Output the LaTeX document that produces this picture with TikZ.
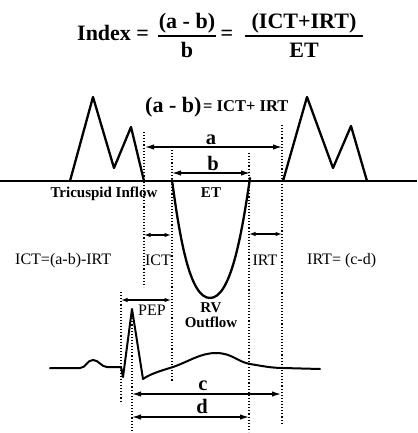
\documentclass[tikz,border=0pt]{standalone}
\usepackage{fontspec}
\setmainfont{Liberation Serif}
\usetikzlibrary{arrows.meta}
\begin{document}
\begin{tikzpicture}[x=1pt,y=-1pt,
  wave/.style={line width=2.3pt, line join=round, line cap=round},
  ecg/.style={line width=2pt, line join=round, line cap=round},
  guide/.style={line width=1.2pt, dash pattern=on 1.1pt off 2pt},
  dimarrow/.style={line width=1.3pt, {Latex[length=9pt,width=5.5pt]}-{Latex[length=9pt,width=5.5pt]}},
  smallarrow/.style={line width=1.2pt, {Latex[length=6.5pt,width=4.5pt]}-{Latex[length=6.5pt,width=4.5pt]}},
  txt/.style={inner sep=0pt, anchor=base},
  bold15/.style={txt, font=\fontsize{15}{18}\selectfont\bfseries},
  reg16/.style={txt, font=\fontsize{16}{19}\selectfont},
  let20/.style={txt, font=\fontsize{20.5}{24}\selectfont\bfseries},
  title/.style={txt, font=\fontsize{22}{26}\selectfont\bfseries},
  fracbar/.style={line width=1.5pt}
]
\useasboundingbox[fill=white] (0,0) rectangle (417,433);

% ---- title formula ----
\node[title, anchor=base west] (idx) at (77,41) {Index =};
\node[title] (num1) at (187,29) {(a - b)};
\node[title] (den1) at (187,58) {b};
\coordinate (f1l) at (158,36); \coordinate (f1r) at (216,36);
\draw[fracbar] (f1l) -- (f1r);
\node[title] (eq2) at (227,41) {=};
\node[title] (num2) at (304,29) {(ICT+IRT)};
\node[title] (den2) at (304,58) {ET};
\coordinate (f2l) at (245,36); \coordinate (f2r) at (363,36);
\draw[fracbar] (f2l) -- (f2r);

% ---- second line ----
\node[txt, anchor=base west, font=\fontsize{22}{26}\selectfont\bfseries] (ab) at (145,112) {(a - b)};
\node[txt, anchor=base west, font=\fontsize{16.5}{20}\selectfont\bfseries] (sum) at (203,111) {= ICT+ IRT};

% ---- baseline ----
\coordinate (bl) at (0,181); \coordinate (br) at (417,181);
\draw[line width=1.2pt] (bl) -- (br);

% ---- tricuspid inflow waves ----
\draw[wave] (70,181) -- (93,97) -- (114,168) -- (131,127) -- (144,181);
\draw[wave] (283,181) -- (307,97) -- (333,168) -- (351,126) -- (367,181);

% ---- RV outflow ----
\draw[wave] (172,180) .. controls (180,240) and (190,298) .. (210,298)
  .. controls (230,298) and (241,240) .. (250,178);

% ---- guide lines ----
\coordinate (g1t) at (144,132); \coordinate (g1b) at (144,287);
\coordinate (g2t) at (172,150); \coordinate (g2b) at (172,382);
\coordinate (g3t) at (249,153); \coordinate (g3b) at (249,432);
\coordinate (g4t) at (282,125); \coordinate (g4b) at (282,425);
\coordinate (g5t) at (121,292); \coordinate (g5b) at (121,403);
\coordinate (g6t) at (132,312); \coordinate (g6b) at (132,433);
\foreach \g in {g1,g2,g3,g4,g5,g6} \draw[guide] (\g t) -- (\g b);

% ---- dimension arrows ----
\coordinate (aL) at (145,147); \coordinate (aR) at (282,147);
\draw[dimarrow] (aL) -- (aR);
\node[let20] (alab) at (211,144) {a};
\coordinate (bL) at (172,173); \coordinate (bR) at (250,173);
\draw[dimarrow] (bL) -- (bR);
\node[let20] (blab) at (213,170) {b};

\coordinate (ictL) at (144,235); \coordinate (ictR) at (171,235);
\draw[smallarrow] (ictL) -- (ictR);
\coordinate (irtL) at (249,234); \coordinate (irtR) at (282,234);
\draw[smallarrow] (irtL) -- (irtR);
\coordinate (pepL) at (121,300); \coordinate (pepR) at (171,300);
\draw[smallarrow] (pepL) -- (pepR);

\coordinate (cL) at (132,394); \coordinate (cR) at (281,394);
\draw[dimarrow] (cL) -- (cR);
\node[let20] (clab) at (203,390) {c};
\coordinate (dL) at (132,417); \coordinate (dR) at (249,417);
\draw[dimarrow] (dL) -- (dR);
\node[let20] (dlab) at (202,413) {d};

% ---- labels ----
\node[bold15] (tri) at (104,197) {Tricuspid Inflow};
\node[bold15] (et) at (211,197) {ET};
\node[reg16, anchor=base west] (icteq) at (15,264) {ICT=(a-b)-IRT};
\node[reg16] (ict) at (158,265) {ICT};
\node[reg16] (irt) at (265,265) {IRT};
\node[reg16, anchor=base west] (irteq) at (307,264) {IRT= (c-d)};
\node[reg16] (pep) at (152,315) {PEP};
\node[bold15] (rv) at (211,312) {RV};
\node[bold15] (out) at (211,327) {Outflow};

% ---- ECG ----
\draw[ecg] (50,368) -- (80,368) .. controls (86,368) and (87,360) .. (93,360)
  .. controls (99,360) and (101,367) .. (107,367) -- (121,367) -- (123,377)
  -- (132,309) -- (143,379)
  .. controls (150,374) and (160,371) .. (173,367)
  .. controls (188,362) and (200,353) .. (216,353)
  .. controls (232,353) and (238,362) .. (250,364)
  .. controls (262,366) and (272,368) .. (283,368)
  -- (320,369);
\end{tikzpicture}
\end{document}
